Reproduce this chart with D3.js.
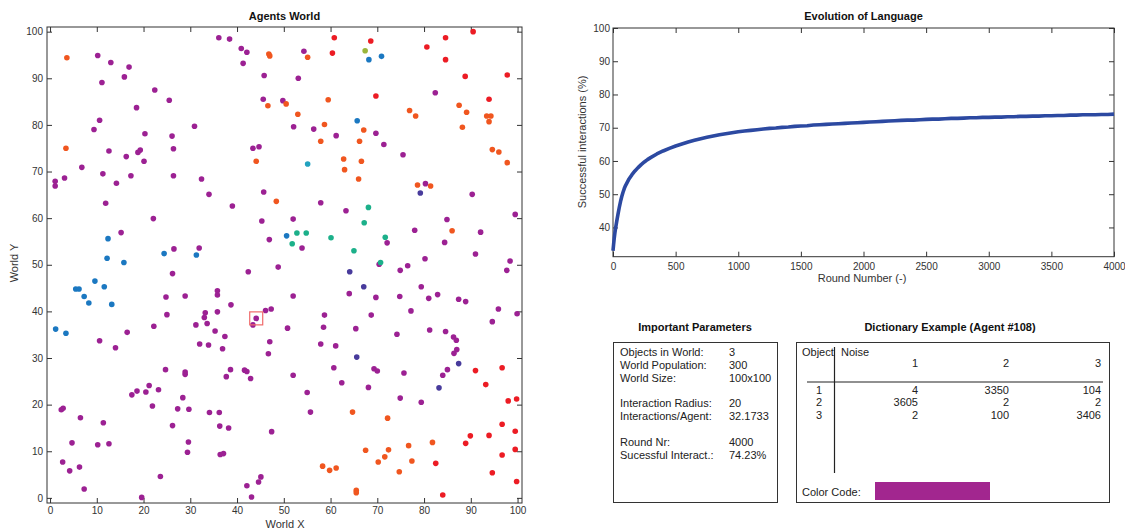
<!DOCTYPE html>
<html>
<head>
<meta charset="utf-8">
<script src="https://cdn.jsdelivr.net/npm/d3@7"></script>
<style>
  body { margin: 0; background: #fff; }
  svg { display: block; font-family: "Liberation Sans", Arial, sans-serif; }
  .tick text { fill: #333; font-size: 10px; }
  .tick line { stroke: #333; }
</style>
</head>
<body>
<div id="chart"></div>
<script>
// Agents positions, grouped by the word they use (colour)
const purpleAgents = [
  [10.2,94.9],[13.0,93.4],[16.9,92.4],[11.1,89.1],[15.9,90.3],[22.4,87.5],[25.5,85.3],[18.5,83.7],
  [10.6,81.0],[9.4,79.0],[20.3,78.1],[30.9,79.7],[26.1,77.6],[12.6,74.4],[18.8,74.1],[19.3,74.6],
  [16.3,73.2],[26.4,74.9],[20.1,72.2],[6.8,70.9],[3.1,68.6],[1.1,67.9],[1.1,66.9],[11.3,69.5],
  [17.3,69.1],[26.4,69.1],[14.2,67.5],[32.4,68.4],[34.0,65.1],[11.9,63.2],[22.1,59.9],[15.2,56.9],
  [26.5,53.4],[31.9,53.6],[36.1,98.7],[38.4,98.4],[40.9,96.4],[42.1,95.6],[41.3,93.2],[45.8,90.6],
  [45.6,85.5],[43.4,75.0],[44.7,75.3],[45.7,65.6],[39.0,62.6],[45.3,59.4],[46.9,55.4],
  [54.3,95.8],[53.1,90.0],[82.4,86.9],[49.8,85.2],[52.1,79.6],[56.4,79.1],[61.2,77.7],[69.7,78.2],
  [71.4,75.8],[75.5,73.6],[80.3,67.4],[90.3,65.1],[57.9,63.3],[63.3,61.6],[52.0,59.8],[84.9,59.7],
  [99.5,60.8],[78.0,57.4],[92.1,57.0],[53.9,53.6],[72.1,54.7],[84.4,54.8],[91.0,52.3],[80.2,51.3],
  [26.2,48.1],[24.8,43.1],[25.0,39.3],[28.9,43.3],[10.6,33.7],[16.5,35.5],[14.0,32.2],[22.2,36.8],
  [31.2,37.1],[33.0,38.7],[33.2,39.7],[33.6,37.4],[32.0,33.0],[33.9,32.8],[35.8,44.4],[35.8,43.5],
  [35.8,39.9],[35.3,35.8],[37.4,34.6],[36.9,32.0],[38.7,41.4],[44.1,38.5],[43.4,37.1],[46.1,40.2],
  [47.3,40.5],[47.0,33.5],[46.7,30.9],[42.4,48.5],[38.6,27.5],[37.7,26.0],[41.6,27.4],[42.1,27.1],
  [42.9,25.6],[24.7,27.5],[28.9,27.0],[28.9,26.5],[21.2,24.1],[23.2,23.2],[20.5,22.7],[18.6,22.9],
  [17.5,22.1],[21.9,19.7],[28.4,21.5],[27.3,19.1],[29.7,19.0],[34.1,18.3],[36.2,18.3],[36.3,15.4],
  [38.2,15.0],[26.2,15.5],[47.4,14.2],[2.4,18.9],[2.8,19.2],[6.5,17.2],[11.4,16.1],[4.7,11.8],
  [10.2,11.4],[12.6,11.6],[29.6,12.0],[29.4,9.8],[36.4,9.3],[37.1,9.5],[2.7,7.7],[6.3,6.6],
  [4.2,5.8],[7.3,1.9],[19.6,0.1],[23.6,4.6],[42.1,2.6],[43.1,0.2],[44.6,3.4],[45.1,4.5],
  [48.8,49.5],[70.4,50.1],[76.5,49.8],[74.9,48.8],[64.0,43.8],[52.0,43.3],[69.7,43.0],[74.8,43.2],
  [79.4,45.3],[81.0,42.8],[82.9,43.6],[87.4,42.6],[88.9,42.1],[98.4,50.8],[97.7,48.8],[95.9,40.5],
  [99.9,39.5],[94.6,37.8],[77.2,40.1],[68.7,39.2],[58.7,39.2],[58.5,36.6],[50.8,36.4],[65.4,36.3],
  [81.2,36.0],[84.6,35.7],[74.2,35.1],[86.3,34.5],[86.9,33.8],[57.9,33.0],[61.1,32.6],[87.0,31.8],
  [86.4,31.0],[60.7,27.9],[69.3,27.7],[70.0,27.2],[75.7,26.8],[85.0,27.5],[84.0,26.3],[52.0,26.3],
  [62.4,24.7],[68.1,23.7],[55.0,22.6],[74.9,21.4],[79.4,20.5],[55.7,18.4]
];
const orangeAgents = [
  [3.6,94.4],[3.4,75.0],[46.8,95.2],[47.0,94.8],[46.6,84.1],[44.1,72.2],[48.4,63.6],
  [55.1,94.5],[50.5,84.5],[59.5,85.4],[76.9,83.1],[78.2,81.9],[87.5,84.2],[89.1,82.7],[93.4,81.9],
  [94.3,81.9],[93.9,80.7],[88.2,79.5],[53.0,82.3],[58.7,80.1],[67.1,78.9],[57.9,76.5],[66.2,76.5],
  [94.6,74.7],[96.0,74.2],[97.8,71.9],[62.8,72.7],[66.6,72.2],[63.0,70.4],[66.0,68.4],[78.6,67.1],
  [81.4,66.9],[86.0,57.3],
  [64.7,18.4],[72.2,17.1],[81.8,11.9],[76.7,11.2],[77.4,7.9],[67.5,10.2],[72.4,10.3],[71.6,8.8],
  [70.2,7.7],[58.3,6.8],[59.8,5.9],[61.2,6.4],[74.7,5.6],[65.5,1.6],[65.5,1.1]
];
const redAgents = [
  [60.8,98.7],[60.4,95.4],[68.6,98.0],[84.6,98.7],[90.5,100.0],[80.6,96.7],[84.6,94.0],[88.8,90.4],
  [97.8,90.7],[69.7,86.2],[93.9,85.5],
  [91.0,27.3],[96.7,27.9],[93.2,24.3],[98.0,20.8],[99.8,21.2],[96.7,15.8],[99.5,14.3],[93.9,13.4],
  [89.9,13.3],[88.9,11.7],[96.7,9.2],[99.5,10.4],[94.6,5.4],[99.8,3.5],[82.5,7.4],[84.0,0.6]
];
const blueAgents = [
  [12.4,55.6],[12.2,51.4],[24.4,52.4],[31.3,52.1],[68.2,94.0],[70.9,94.7],[65.7,80.9],[50.6,56.2],
  [15.8,50.5],[5.5,44.8],[6.2,44.8],[9.6,46.5],[11.6,45.3],[7.3,43.2],[8.3,41.8],[13.2,41.5],
  [1.2,36.2],[3.4,35.3]
];
const indigoAgents = [[79.2,65.4],[64.1,48.5],[67.1,45.3],[65.6,30.2],[87.4,28.8],[83.2,23.6]];
const tealAgents = [
  [68.1,62.3],[67.2,59.0],[52.8,56.8],[54.8,56.8],[51.8,54.5],[60.1,55.8],[71.7,55.9],[65.0,53.0],[70.7,50.5]
];
const cyanAgents = [[55.1,71.6]];
const oliveAgents = [[67.4,95.9]];
const selectedAgent = [44.1, 38.5];

const worldTicks = [0, 10, 20, 30, 40, 50, 60, 70, 80, 90, 100];

// Evolution of language: successful interactions (%) per round
const rounds = [0,5,10,15,20,30,40,50,60,70,80,90,100,125,150,175,200,225,250,275,300,350,400,450,500,
  550,600,650,700,750,800,850,900,950,1000,1050,1100,1150,1200,1250,1300,1350,1400,1450,1500,1550,
  1600,1650,1700,1750,1800,1850,1900,1950,2000,2050,2100,2150,2200,2250,2300,2350,2400,2450,2500,
  2550,2600,2650,2700,2750,2800,2850,2900,2950,3000,3050,3100,3150,3200,3250,3300,3350,3400,3450,
  3500,3550,3600,3650,3700,3750,3800,3850,3900,3950,4000];
const successRate = [33.0,35.0,36.8,38.3,39.6,41.9,44.0,46.0,47.8,49.3,50.6,51.7,52.6,54.4,55.8,57.0,
  58.0,58.9,59.7,60.4,61.0,62.1,63.0,63.8,64.5,65.1,65.7,66.2,66.7,67.1,67.5,67.9,68.2,68.5,68.8,
  69.0,69.2,69.4,69.6,69.8,69.9,70.1,70.2,70.4,70.5,70.6,70.8,70.9,71.0,71.1,71.2,71.3,71.4,71.5,
  71.6,71.7,71.8,71.9,72.0,72.1,72.2,72.3,72.3,72.4,72.5,72.6,72.6,72.7,72.8,72.8,72.9,73.0,73.0,
  73.1,73.1,73.2,73.2,73.3,73.3,73.4,73.4,73.5,73.5,73.6,73.6,73.7,73.7,73.8,73.8,73.9,73.9,73.9,
  74.0,74.0,74.1];
const roundTicks = [0, 500, 1000, 1500, 2000, 2500, 3000, 3500, 4000];
const rateTicks = [40, 50, 60, 70, 80, 90, 100];

// Parameters panel
const paramLabels = ["Objects in World:", "World Population:", "World Size:", "", "Interaction Radius:",
  "Interactions/Agent:", "", "Round Nr:", "Sucessful Interact.:"];
const paramValues = ["3", "300", "100x100", "", "20", "32.1733", "", "4000", "74.23%"];

// Dictionary of agent #108
const dictObjects = ["1", "2", "3"];
const dictNoise = ["1", "2", "3"];
const dictCounts = [[4, 3350, 104], [3605, 2, 2], [2, 100, 3406]];

const colors = {
  purple: "#9c2193", orange: "#f0561f", red: "#ec1c24", blue: "#1b78c1",
  indigo: "#483b9c", teal: "#1cb08a", cyan: "#22a2bf", olive: "#9bb63b"
};

let svg = d3.select("#chart").append("svg")
  .attr("width", 1125)
  .attr("height", 529);

svg.append("rect").attr("width", 1125).attr("height", 529).attr("fill", "#fff");

// MATLAB style box axes with inward ticks on all sides
function boxAxes(x, y, xTicks, yTicks, xPad, yPad) {
  let [x0, x1] = x.range();
  let [y0, y1] = y.range();
  let g = svg.append("g");
  let tick = 5;

  g.append("g").attr("transform", `translate(0,${y0})`)
    .call(d3.axisBottom(x).tickValues(xTicks).tickSizeInner(-tick).tickSizeOuter(0)
      .tickPadding(xPad).tickFormat(d3.format("d")));
  g.append("g").attr("transform", `translate(0,${y1})`)
    .call(d3.axisTop(x).tickValues(xTicks).tickSizeInner(-tick).tickSizeOuter(0).tickFormat(""));
  g.append("g").attr("transform", `translate(${x0},0)`)
    .call(d3.axisLeft(y).tickValues(yTicks).tickSizeInner(-tick).tickSizeOuter(0)
      .tickPadding(yPad).tickFormat(d3.format("d")));
  g.append("g").attr("transform", `translate(${x1},0)`)
    .call(d3.axisRight(y).tickValues(yTicks).tickSizeInner(-tick).tickSizeOuter(0).tickFormat(""));

  g.selectAll(".domain").remove();
  g.selectAll(".tick text").attr("font-family", null).attr("font-size", null);

  g.append("rect")
    .attr("x", x0).attr("y", y1)
    .attr("width", x1 - x0).attr("height", y0 - y1)
    .attr("fill", "none").attr("stroke", "#333").attr("stroke-width", 1);
  return g;
}

function title(txt, x, y) {
  svg.append("text").attr("x", x).attr("y", y)
    .attr("text-anchor", "middle").attr("font-size", 11).attr("font-weight", "bold")
    .attr("fill", "#111").text(txt);
}

function label(txt, x, y, rotate) {
  svg.append("text")
    .attr("transform", `translate(${x},${y})` + (rotate ? " rotate(-90)" : ""))
    .attr("text-anchor", "middle").attr("font-size", 11).attr("fill", "#333").text(txt);
}

// ---------- Agents World ----------
let wx = d3.scaleLinear().domain([-0.65, 100.95]).range([47, 522]);
let wy = d3.scaleLinear().domain([-1.1, 101]).range([503, 27]);

boxAxes(wx, wy, worldTicks, worldTicks, 4, 4);

let groups = [
  [purpleAgents, colors.purple], [orangeAgents, colors.orange], [redAgents, colors.red],
  [blueAgents, colors.blue], [indigoAgents, colors.indigo], [tealAgents, colors.teal],
  [cyanAgents, colors.cyan], [oliveAgents, colors.olive]
];
groups.forEach(([agents, col]) => {
  svg.append("g").selectAll("circle")
    .data(agents)
    .join("circle")
    .attr("cx", d => wx(d[0]))
    .attr("cy", d => wy(d[1]))
    .attr("r", 2.8)
    .attr("fill", col);
});

svg.append("rect")
  .attr("x", wx(selectedAgent[0]) - 6.5)
  .attr("y", wy(selectedAgent[1]) - 6.5)
  .attr("width", 13).attr("height", 13)
  .attr("fill", "none").attr("stroke", "#f06a6a").attr("stroke-width", 1.2);

title("Agents World", 284.5, 20);
label("World X", 285, 528, false);
label("World Y", 18, 263, true);

// ---------- Evolution of Language ----------
let rx = d3.scaleLinear().domain([0, 4000]).range([613, 1114]);
let ry = d3.scaleLinear().domain([31.2, 100]).range([256.7, 28]);

boxAxes(rx, ry, roundTicks, rateTicks, 6, 3);

svg.append("path")
  .datum(rounds.map((r, i) => [r, successRate[i]]))
  .attr("d", d3.line().x(d => rx(d[0])).y(d => ry(d[1])))
  .attr("fill", "none")
  .attr("stroke", "#2c49a1")
  .attr("stroke-width", 3.6)
  .attr("stroke-linejoin", "round");

title("Evolution of Language", 863.5, 20);
label("Round Number (-)", 862, 282, false);
label("Successful interactions (%)", 586, 142, true);

// ---------- Important Parameters ----------
title("Important Parameters", 695, 331);
svg.append("rect").attr("x", 613.5).attr("y", 342.5).attr("width", 164).attr("height", 160)
  .attr("fill", "none").attr("stroke", "#333");

let lineY = d3.scaleLinear().domain([0, 8]).range([356, 458.5]);
svg.append("g").selectAll("text")
  .data(paramLabels)
  .join("text")
  .attr("x", 620).attr("y", (d, i) => lineY(i))
  .attr("font-size", 11).attr("fill", "#222")
  .text(d => d);
svg.append("g").selectAll("text")
  .data(paramValues)
  .join("text")
  .attr("x", 729).attr("y", (d, i) => lineY(i))
  .attr("font-size", 11).attr("fill", "#222")
  .text(d => d);

// ---------- Dictionary Example ----------
title("Dictionary Example (Agent #108)", 950, 331);
svg.append("rect").attr("x", 796.5).attr("y", 342.5).attr("width", 313).attr("height", 160)
  .attr("fill", "none").attr("stroke", "#333");

let colX = d3.scaleOrdinal().domain(dictNoise).range([918, 1009, 1101]);
let rowY = d3.scaleBand().domain(dictObjects).range([384, 421]);

svg.append("text").attr("x", 802).attr("y", 356).attr("font-size", 11).attr("fill", "#222").text("Object");
svg.append("text").attr("x", 841).attr("y", 356).attr("font-size", 11).attr("fill", "#222").text("Noise");
svg.append("line").attr("x1", 834.5).attr("x2", 834.5).attr("y1", 347).attr("y2", 473)
  .attr("stroke", "#222").attr("stroke-width", 1.2);
svg.append("line").attr("x1", 807).attr("x2", 1103).attr("y1", 382).attr("y2", 382)
  .attr("stroke", "#222").attr("stroke-width", 1.2);

svg.append("g").selectAll("text")
  .data(dictNoise)
  .join("text")
  .attr("x", d => colX(d)).attr("y", 367)
  .attr("text-anchor", "end").attr("font-size", 11).attr("fill", "#222")
  .text(d => d);

svg.append("g").selectAll("text")
  .data(dictObjects)
  .join("text")
  .attr("x", 822).attr("y", d => rowY(d) + 10)
  .attr("text-anchor", "end").attr("font-size", 11).attr("fill", "#222")
  .text(d => d);

dictCounts.forEach((row, i) => {
  svg.append("g").selectAll("text")
    .data(row)
    .join("text")
    .attr("x", (d, j) => colX(dictNoise[j]))
    .attr("y", rowY(dictObjects[i]) + 10)
    .attr("text-anchor", "end").attr("font-size", 11).attr("fill", "#222")
    .text(d => d);
});

svg.append("text").attr("x", 802).attr("y", 496).attr("font-size", 11).attr("fill", "#222").text("Color Code:");
svg.append("rect").attr("x", 875).attr("y", 482).attr("width", 115).attr("height", 18)
  .attr("fill", "#a2268f");
</script>
</body>
</html>
